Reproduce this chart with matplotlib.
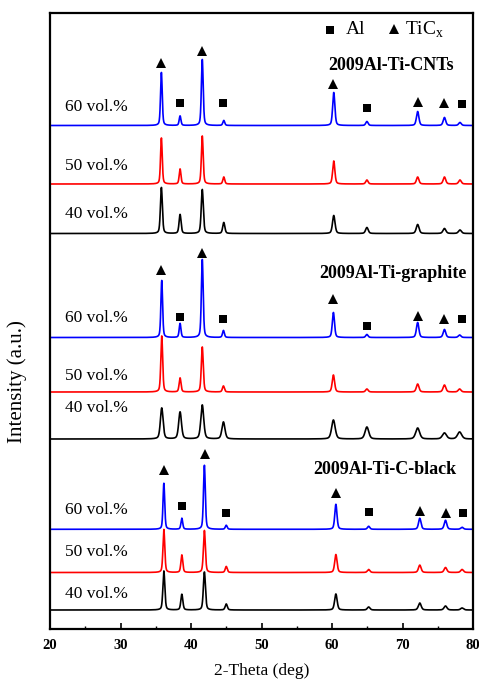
import numpy as np
import matplotlib.pyplot as plt

plt.rcParams['font.family'] = ['Liberation Serif', 'DejaVu Serif']
plt.rcParams['mathtext.fontset'] = 'custom'
plt.rcParams['mathtext.rm'] = 'Liberation Serif'

# datos (intensidad en unidades arbitrarias)
grupos = ['2009Al-Ti-CNTs', '2009Al-Ti-graphite', '2009Al-Ti-C-black']
fracciones = ['60 vol.%', '50 vol.%', '40 vol.%']
fases = ['T', 'A', 'T', 'A', 'T', 'A', 'T', 'T', 'A']

pos_cnt = [35.8, 38.45, 41.6, 44.65, 60.25, 64.95, 72.15, 75.95, 78.15]
pos_gra = [35.85, 38.45, 41.6, 44.6, 60.2, 64.95, 72.15, 75.95, 78.1]
pos_cb = [36.15, 38.7, 41.9, 45.0, 60.55, 65.2, 72.45, 76.1, 78.45]

alt_cnt_60 = [53, 9.5, 66, 5, 33, 4, 14, 8, 3]
alt_cnt_50 = [46, 15, 48, 7, 23, 4, 7, 7, 4]
alt_cnt_40 = [46, 19, 44, 11, 18, 6, 9, 5, 3.5]
alt_gra_60 = [57, 14, 78, 7, 25, 3, 15, 8, 2.5]
alt_gra_50 = [56, 14, 45, 6, 17, 3, 8, 7, 3]
alt_gra_40 = [31, 27, 34, 17, 19, 12, 11, 6, 7]
alt_cb_60 = [46, 11, 64, 4, 25, 3, 11, 9, 2]
alt_cb_50 = [43, 17.5, 42, 6, 18, 3, 7.4, 5, 3]
alt_cb_40 = [39, 15.7, 38, 6, 16, 3, 7, 4, 2]

# lineas base de cada difractograma
base_cnt = [503.5, 445, 395.5]
base_gra = [291.5, 237, 190]
base_cb = [99.7, 56.5, 19]

anchos = [[0.28, 0.28, 0.32], [0.28, 0.30, 0.45], [0.28, 0.30, 0.32]]

# marcadores de fase sobre los picos de 60 vol.%
mk_x_cnt = [35.8, 38.4, 41.6, 44.6, 60.2, 65.0, 72.2, 75.9, 78.4]
mk_y_cnt = [566.3, 526.3, 578, 526.3, 545, 521.3, 527.3, 526.3, 524.7]
mk_x_gra = [35.8, 38.4, 41.6, 44.6, 60.2, 65.0, 72.2, 75.9, 78.4]
mk_y_gra = [359, 312.3, 375.7, 309.7, 330, 303, 313, 310, 310]
mk_x_cb = [36.2, 38.7, 42.0, 45.0, 60.6, 65.3, 72.5, 76.1, 78.6]
mk_y_cb = [159, 123.3, 175, 116.3, 136.3, 117.3, 118.3, 116.3, 115.7]

vol_y = [[522, 463, 415], [311, 253, 221], [119, 77, 35]]
titulo_xy = [(68.4, 564), (68.6, 355), (67.5, 159)]

posiciones = [pos_cnt, pos_gra, pos_cb]
alturas = [[alt_cnt_60, alt_cnt_50, alt_cnt_40],
           [alt_gra_60, alt_gra_50, alt_gra_40],
           [alt_cb_60, alt_cb_50, alt_cb_40]]
bases = [base_cnt, base_gra, base_cb]
marcas = [(mk_x_cnt, mk_y_cnt), (mk_x_gra, mk_y_gra), (mk_x_cb, mk_y_cb)]
colores = ['#0000ff', '#ff0000', 'black']


def perfil(x, centros, alturas_pico, ancho):
    """Suma de picos pseudo-Voigt."""
    y = np.zeros_like(x)
    for c, h in zip(centros, alturas_pico):
        w = ancho * (1 + (c - 35) / 80)
        g = np.exp(-4 * np.log(2) * ((x - c) / w) ** 2)
        l = 1 / (1 + 4 * ((x - c) / w) ** 2)
        y += h * (0.6 * g + 0.4 * l)
    return y


x = np.arange(20, 80.001, 0.01)

fig = plt.figure(figsize=(4.79, 6.82), dpi=100)
ax = fig.add_axes([50 / 479, 53 / 682, 423 / 479, 616 / 682])

for g in range(3):
    for k in range(3):
        y = bases[g][k] + perfil(x, posiciones[g], alturas[g][k], anchos[g][k])
        ax.plot(x, y, color=colores[k], lw=1.2)
        ax.text(22.1, vol_y[g][k], fracciones[k], fontsize=12.5, va='center', ha='left')
    mx, my = marcas[g]
    for xi, yi, f in zip(mx, my, fases):
        if f == 'T':
            ax.plot(xi, yi, marker='^', color='black', ms=7, mew=0)
        else:
            ax.plot(xi, yi, marker='s', color='black', ms=6, mew=0)
    ax.text(titulo_xy[g][0], titulo_xy[g][1], grupos[g], fontsize=13,
            fontweight='bold', ha='center', va='center')

# leyenda
ax.plot(59.7, 599, marker='s', color='black', ms=6, mew=0)
ax.text(62.0, 599, 'Al', fontsize=14, va='center', ha='left')
ax.plot(68.8, 600, marker='^', color='black', ms=7, mew=0)
ax.text(70.3, 599, r'TiC$_\mathrm{x}$', fontsize=14, va='center', ha='left')

ax.set_xlim(20, 80)
ax.set_ylim(0, 616)
ax.set_yticks([])
ax.set_xticks(np.arange(20, 81, 10))
ax.set_xticks(np.arange(25, 80, 10), minor=True)
ax.tick_params(axis='x', which='major', direction='in', length=4, width=1.2, pad=7)
ax.tick_params(axis='x', which='minor', direction='in', length=2, width=1.0)
for lab in ax.get_xticklabels():
    lab.set_fontweight('bold')
    lab.set_fontsize(10.5)
for s in ax.spines.values():
    s.set_linewidth(1.6)

ax.set_xlabel('2-Theta (deg)', fontsize=12.5)
ax.xaxis.set_label_coords(0.5, -0.056)
fig.text(17 / 479, 1 - 382 / 682, 'Intensity (a.u.)', rotation=90,
         fontsize=15, ha='center', va='center')

fig.savefig('out.png', dpi=100)
